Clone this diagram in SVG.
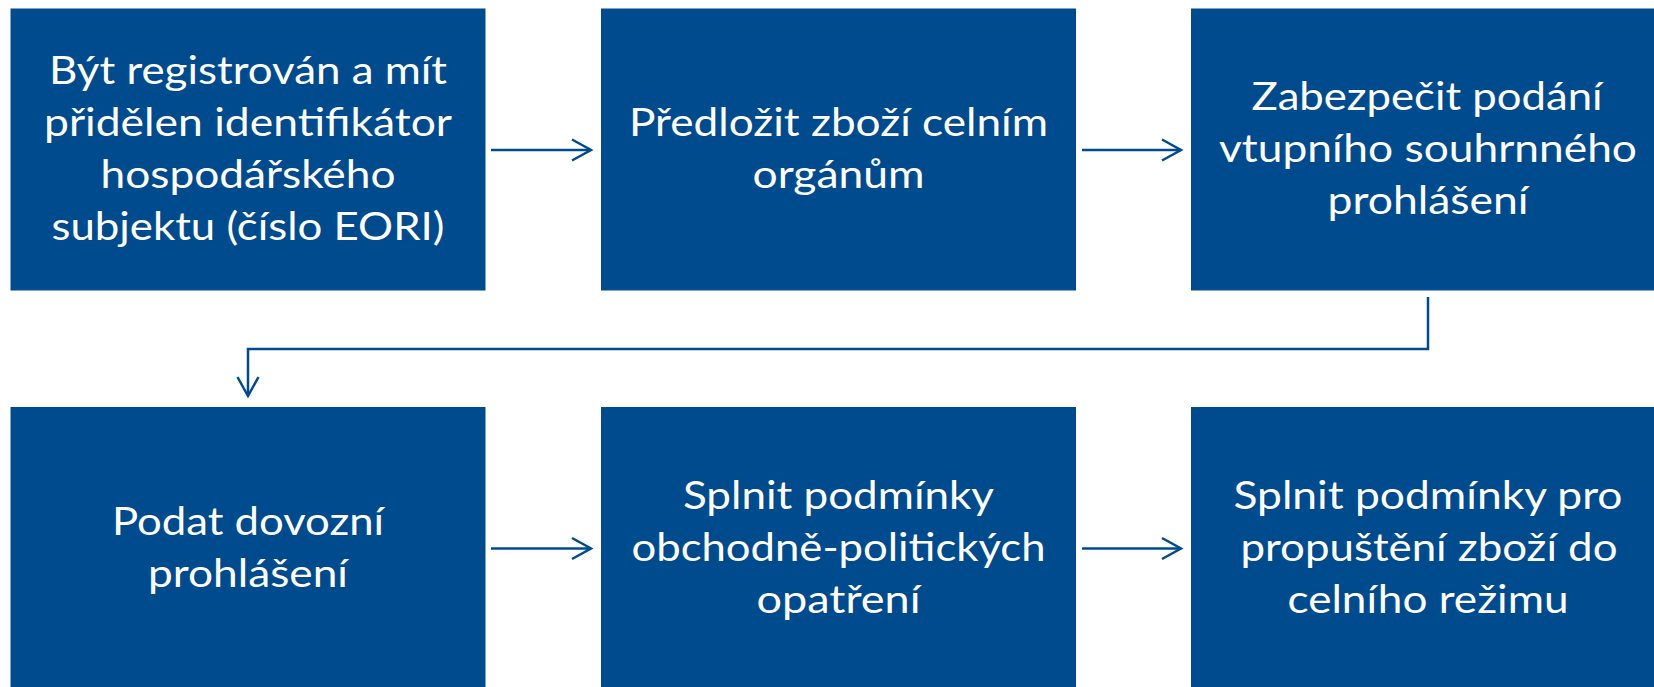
<svg xmlns="http://www.w3.org/2000/svg" width="1654" height="687" viewBox="0 0 1654 687">
<style>
.box{fill:#004B8D}
.t{font-family:Lato,"Open Sans","Liberation Sans",sans-serif;font-size:38px;fill:#ffffff;text-anchor:middle}
.c{fill:none;stroke:#004B8D;stroke-width:2.5}
</style>
<defs>
<marker id="arr" markerUnits="userSpaceOnUse" markerWidth="26" markerHeight="26" refX="21" refY="12" orient="auto" overflow="visible">
<path d="M2,1.5 L21,12 L2,22.5" fill="none" stroke="#004B8D" stroke-width="2.5"/>
</marker>
</defs>
<rect width="1654" height="687" fill="#ffffff"/>
<g id="n1">
<rect class="box" x="10.5" y="8.5" width="475" height="282"/>
<text class="t" x="248" y="84" textLength="398" lengthAdjust="spacingAndGlyphs">Být registrován a mít</text>
<text class="t" x="248" y="136" textLength="408" lengthAdjust="spacingAndGlyphs">přidělen identifikátor</text>
<text class="t" x="248" y="188" textLength="295" lengthAdjust="spacingAndGlyphs">hospodářského</text>
<text class="t" x="248" y="240" textLength="393" lengthAdjust="spacingAndGlyphs">subjektu (číslo EORI)</text>
</g>
<g id="n2">
<rect class="box" x="601" y="8.5" width="475" height="282"/>
<text class="t" x="838.5" y="136" textLength="419" lengthAdjust="spacingAndGlyphs">Předložit zboží celním</text>
<text class="t" x="838.5" y="188" textLength="172" lengthAdjust="spacingAndGlyphs">orgánům</text>
</g>
<g id="n3">
<rect class="box" x="1191" y="8.5" width="475" height="282"/>
<text class="t" x="1427" y="110" textLength="351" lengthAdjust="spacingAndGlyphs">Zabezpečit podání</text>
<text class="t" x="1428" y="162" textLength="418" lengthAdjust="spacingAndGlyphs">vtupního souhrnného</text>
<text class="t" x="1428" y="214" textLength="201" lengthAdjust="spacingAndGlyphs">prohlášení</text>
</g>
<g id="n4">
<rect class="box" x="10.5" y="407" width="475" height="282"/>
<text class="t" x="248" y="535" textLength="272" lengthAdjust="spacingAndGlyphs">Podat dovozní</text>
<text class="t" x="248" y="587" textLength="200" lengthAdjust="spacingAndGlyphs">prohlášení</text>
</g>
<g id="n5">
<rect class="box" x="601" y="407" width="475" height="282"/>
<text class="t" x="838.5" y="509" textLength="311" lengthAdjust="spacingAndGlyphs">Splnit podmínky</text>
<text class="t" x="838.5" y="561" textLength="414" lengthAdjust="spacingAndGlyphs">obchodně-politických</text>
<text class="t" x="838.5" y="613" textLength="164" lengthAdjust="spacingAndGlyphs">opatření</text>
</g>
<g id="n6">
<rect class="box" x="1191" y="407" width="475" height="282"/>
<text class="t" x="1428" y="509" textLength="389" lengthAdjust="spacingAndGlyphs">Splnit podmínky pro</text>
<text class="t" x="1429" y="561" textLength="377" lengthAdjust="spacingAndGlyphs">propuštění zboží do</text>
<text class="t" x="1428" y="613" textLength="281" lengthAdjust="spacingAndGlyphs">celního režimu</text>
</g>
<g id="connectors">
<path class="c" d="M491,150 H591" marker-end="url(#arr)"/>
<path class="c" d="M1082,150 H1181" marker-end="url(#arr)"/>
<path class="c" d="M1428,297 V349 H248 V396" marker-end="url(#arr)"/>
<path class="c" d="M491,548.5 H591" marker-end="url(#arr)"/>
<path class="c" d="M1082,548.5 H1181" marker-end="url(#arr)"/>
</g>
</svg>
